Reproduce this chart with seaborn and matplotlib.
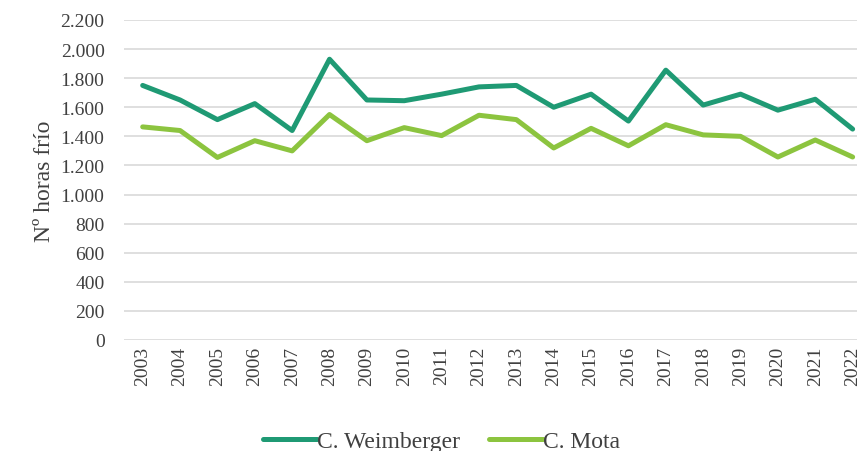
import pandas as pd
import matplotlib.pyplot as plt
import matplotlib.ticker as mticker
import seaborn as sns

years = list(range(2003, 2023))
weimberger = [1750, 1650, 1515, 1625, 1440, 1930, 1650, 1645, 1690, 1740,
              1750, 1600, 1690, 1505, 1855, 1615, 1690, 1580, 1655, 1450]
mota = [1465, 1440, 1255, 1370, 1300, 1550, 1370, 1460, 1405, 1545,
        1515, 1320, 1455, 1335, 1480, 1410, 1400, 1258, 1375, 1258]

df = pd.DataFrame({
    "Año": years * 2,
    "Horas": weimberger + mota,
    "Serie": ["C. Weimberger"] * len(years) + ["C. Mota"] * len(years),
})

sns.set_style("white")
plt.rcParams["font.family"] = ["Liberation Serif", "DejaVu Serif"]

fig = plt.figure(figsize=(8.57, 4.52), dpi=100)
ax = fig.add_axes([0.1447, 0.2456, 0.872, 0.708])

palette = {"C. Weimberger": "#1f9a74", "C. Mota": "#8cc43f"}
sns.lineplot(data=df, x="Año", y="Horas", hue="Serie", palette=palette,
             linewidth=3.6, ax=ax, legend=False)

ax.set_xlim(2002.5, 2022.5)
ax.set_ylim(0, 2200)
ax.set_xticks(years)
ax.set_xticklabels([str(y) for y in years], rotation=90, fontsize=14, color="#404040")
ax.set_yticks(range(0, 2201, 200))
ax.yaxis.set_major_formatter(mticker.FuncFormatter(lambda v, p: f"{int(v):,}".replace(",", ".")))
ax.tick_params(axis="y", labelsize=14, colors="#404040", length=0, pad=14)
ax.tick_params(axis="x", length=0, pad=4)
ax.grid(axis="y", color="#d9d9d9", linewidth=1.2)
ax.set_axisbelow(True)
for s in ax.spines.values():
    s.set_visible(False)
ax.set_xlabel("")
ax.set_ylabel("Nº horas frío", fontsize=17, color="#404040", labelpad=4)

handles = [plt.Line2D([0], [0], color=palette[k], linewidth=3.6) for k in palette]
fig.legend(handles, list(palette.keys()), loc="lower center", ncol=2, frameon=False,
           fontsize=17, bbox_to_anchor=(0.515, -0.05), handlelength=2.3,
           handletextpad=0.0, columnspacing=1.2, labelcolor="#404040")

fig.savefig("out.png", dpi=100)
